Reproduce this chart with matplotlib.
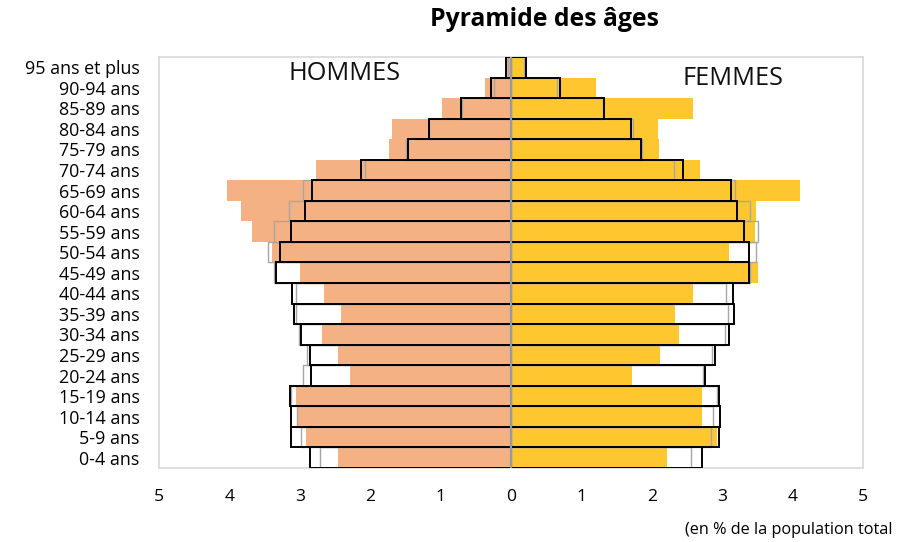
import matplotlib
matplotlib.use("Agg")
import matplotlib.pyplot as plt
import numpy as np

plt.rcParams['font.family'] = ['Open Sans', 'DejaVu Sans']

categories = ["95 ans et plus", "90-94 ans", "85-89 ans", "80-84 ans", "75-79 ans",
              "70-74 ans", "65-69 ans", "60-64 ans", "55-59 ans", "50-54 ans",
              "45-49 ans", "40-44 ans", "35-39 ans", "30-34 ans", "25-29 ans",
              "20-24 ans", "15-19 ans", "10-14 ans", "5-9 ans", "0-4 ans"]

# Filled bars (local population)
hommes_fill = [0.05, 0.37, 0.98, 1.69, 1.73, 2.77, 4.03, 3.83, 3.68, 3.39,
               3.00, 2.66, 2.41, 2.68, 2.46, 2.28, 3.05, 3.02, 2.91, 2.46]
femmes_fill = [0.18, 1.21, 2.58, 2.09, 2.10, 2.68, 4.11, 3.48, 3.47, 3.09,
               3.51, 2.59, 2.33, 2.38, 2.12, 1.72, 2.71, 2.71, 2.93, 2.22]
# Black outline bars
hommes_noir = [0.07, 0.28, 0.71, 1.16, 1.46, 2.13, 2.82, 2.93, 3.13, 3.28,
               3.34, 3.11, 3.08, 2.99, 2.86, 2.84, 3.14, 3.13, 3.12, 2.85]
femmes_noir = [0.22, 0.70, 1.32, 1.70, 1.84, 2.45, 3.13, 3.21, 3.31, 3.38,
               3.38, 3.16, 3.17, 3.10, 2.90, 2.75, 2.95, 2.97, 2.96, 2.72]
# Grey outline bars
hommes_gris = [0.04, 0.24, 0.69, 1.17, 1.49, 2.08, 2.95, 3.16, 3.36, 3.45,
               3.37, 3.05, 3.06, 3.01, 2.90, 2.95, 3.12, 3.04, 2.99, 2.71]
femmes_gris = [0.18, 0.66, 1.31, 1.74, 1.86, 2.32, 3.18, 3.39, 3.51, 3.48,
               3.40, 3.06, 3.08, 3.04, 2.85, 2.73, 2.93, 2.87, 2.84, 2.56]

xticks = [-5, -4, -3, -2, -1, 0, 1, 2, 3, 4, 5]
xticklabels = ["5", "4", "3", "2", "1", "0", "1", "2", "3", "4", "5"]

orange = "#F4B183"
jaune = "#FFC72F"
gris = "#A6A6A6"

fig = plt.figure(figsize=(9.08, 5.42), dpi=100)
ax = fig.add_axes([159/908, 1-468/542, (863-159)/908, (468-57)/542])

y = np.arange(len(categories))[::-1]

ax.barh(y, -np.array(hommes_fill), height=1.0, color=orange, zorder=1)
ax.barh(y, femmes_fill, height=1.0, color=jaune, zorder=1)
ax.barh(y, -np.array(hommes_gris), height=1.0, facecolor='none', edgecolor=gris, linewidth=1.0, zorder=2)
ax.barh(y, femmes_gris, height=1.0, facecolor='none', edgecolor=gris, linewidth=1.0, zorder=2)
ax.barh(y, -np.array(hommes_noir), height=1.0, facecolor='none', edgecolor='black', linewidth=1.4, zorder=3)
ax.barh(y, femmes_noir, height=1.0, facecolor='none', edgecolor='black', linewidth=1.4, zorder=3)
ax.axvline(0, color='#9A9A9A', linewidth=1.6, zorder=4)

ax.set_xlim(-5, 5)
ax.set_ylim(-0.5, len(categories) - 0.5)
ax.set_yticks(y)
ax.set_yticklabels(categories, fontsize=12.9)
ax.set_xticks(xticks)
ax.set_xticklabels(xticklabels, fontsize=12.6)
ax.tick_params(axis='both', length=0)
ax.tick_params(axis='y', pad=14)
ax.tick_params(axis='x', pad=15)
for s in ax.spines.values():
    s.set_color('#D9D9D9')
    s.set_linewidth(1.2)

ax.text(-2.36, 18.7, "HOMMES", fontsize=18.3, ha='center', va='center', color='#111111', zorder=5)
ax.text(3.15, 18.45, "FEMMES", fontsize=18.3, ha='center', va='center', color='#111111', zorder=5)

fig.text(545/908, 1-19/542, "Pyramide des âges", fontsize=17.8, fontweight='bold',
         ha='center', va='center')
fig.text(685/908, 1-530/542, "(en % de la population total", fontsize=11.7,
         ha='left', va='center')

fig.savefig("out.png", dpi=100)
